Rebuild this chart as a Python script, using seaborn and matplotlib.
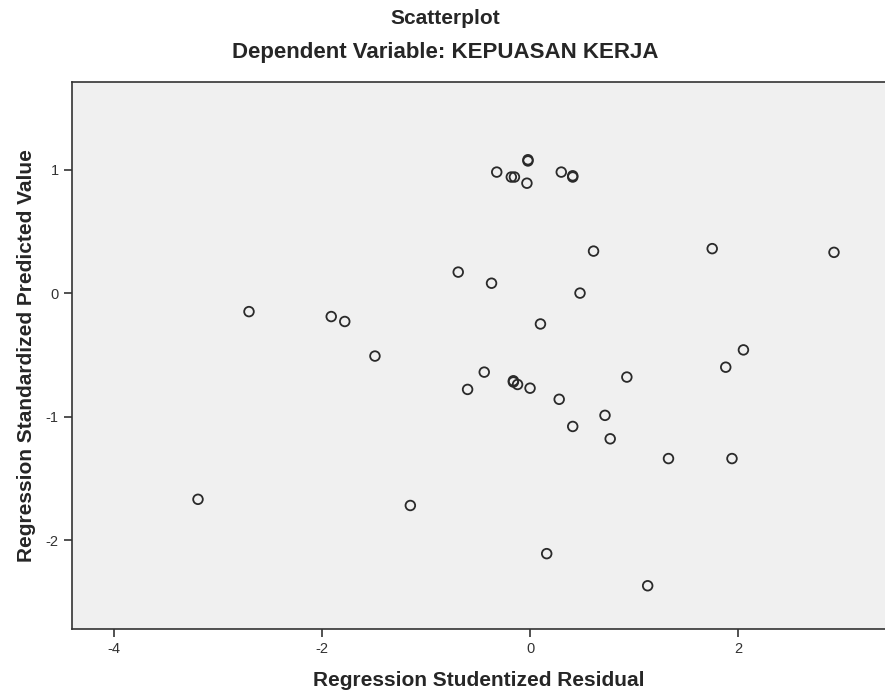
import matplotlib
matplotlib.use('Agg')
import matplotlib.pyplot as plt
import numpy as np
import pandas as pd
import seaborn as sns

# Data
studentized_residual = [
    -0.02, -0.02, -0.32, -0.18, -0.15, -0.03, 0.30, 0.41, 0.41,
    0.61, -0.69, -0.37, 0.48, 0.10, -2.70, -1.91, -1.78, -1.49,
    -0.44, -0.60, -0.16, -0.16, -0.12, 0.00, 0.28, 0.93, 0.72,
    0.41, 0.77, 1.75, 2.92, 2.05, 1.88, 1.33, 1.94, 1.13,
    -3.19, -1.15, 0.16,
]
standardized_predicted = [
    1.07, 1.08, 0.98, 0.94, 0.94, 0.89, 0.98, 0.94, 0.95,
    0.34, 0.17, 0.08, 0.00, -0.25, -0.15, -0.19, -0.23, -0.51,
    -0.64, -0.78, -0.72, -0.71, -0.74, -0.77, -0.86, -0.68, -0.99,
    -1.08, -1.18, 0.36, 0.33, -0.46, -0.60, -1.34, -1.34, -2.37,
    -1.67, -1.72, -2.11,
]
x_ticks = [-4, -2, 0, 2]
y_ticks = [1, 0, -1, -2]

df = pd.DataFrame({'resid': studentized_residual, 'pred': standardized_predicted})

sns.set_style('white')
plt.rcParams['font.family'] = ['Liberation Sans', 'DejaVu Sans']

fig = plt.figure(figsize=(8.85, 6.98), dpi=100)
ax = fig.add_axes([0.0814, 0.0989, 0.9186, 0.7837])
ax.set_facecolor('#f0f0f0')

sns.scatterplot(data=df, x='resid', y='pred', ax=ax, marker='o',
                facecolor='none', edgecolor='#2a2a2a', linewidth=1.3, s=48)

ax.set_xlim(-4.40, 3.41)
ax.set_ylim(-2.72, 1.71)
ax.set_xticks(x_ticks)
ax.set_xticklabels([str(t) for t in x_ticks])
ax.set_yticks(y_ticks)
ax.set_yticklabels([str(t) for t in y_ticks])
ax.tick_params(axis='both', direction='out', length=6, width=1.2, color='#333333',
               labelsize=10.5, labelcolor='#333333', bottom=True, left=True)

for side in ['left', 'bottom', 'top']:
    ax.spines[side].set_color('#333333')
    ax.spines[side].set_linewidth(1.2)
ax.spines['right'].set_visible(False)

ax.set_xlabel('Regression Studentized Residual', fontsize=15, fontweight='bold', labelpad=11)
ax.set_ylabel('Regression Standardized Predicted Value', fontsize=15, fontweight='bold', labelpad=7)

fig.text(0.503, 0.974, 'Scatterplot', ha='center', va='center', fontsize=15, fontweight='bold')
fig.text(0.503, 0.925, 'Dependent Variable: KEPUASAN KERJA', ha='center', va='center',
         fontsize=16, fontweight='bold')

fig.savefig('out.png', dpi=100)
